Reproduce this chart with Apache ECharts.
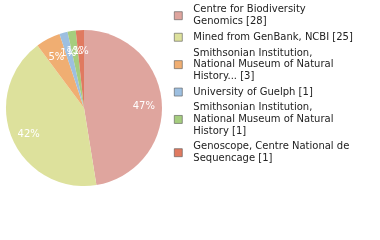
<!DOCTYPE html>
<html><head><meta charset="utf-8">
<script src="https://cdn.jsdelivr.net/npm/echarts@6/dist/echarts.min.js"></script>
<style>html,body{margin:0;padding:0;background:#fff}#c{width:380px;height:240px}</style>
</head><body><div id="c"></div>
<script>
var names = ["Centre for Biodiversity Genomics [28]","Mined from GenBank, NCBI [25]","Smithsonian Institution, National Museum of Natural History... [3]","University of Guelph [1]","Smithsonian Institution, National Museum of Natural History [1]","Genoscope, Centre National de Sequencage [1]"];
var legendText = ["Centre for Biodiversity\nGenomics [28]","Mined from GenBank, NCBI [25]","Smithsonian Institution,\nNational Museum of Natural\nHistory... [3]","University of Guelph [1]","Smithsonian Institution,\nNational Museum of Natural\nHistory [1]","Genoscope, Centre National de\nSequencage [1]"];
var values = [28,25,3,1,1,1];
var pctLabels = ["47%","42%","5%","1%","1%","1%"];
var colors = ["#dfa59e","#dde19c","#f0ae72","#9dbfe0","#a5cd7e","#e07a60"];
var data = names.map(function(n,i){return {name:n,value:values[i]};});
var chart = echarts.init(document.getElementById('c'));
chart.setOption({
  animation:false,
  color:colors,
  legend:{orient:'vertical',left:174,top:4,padding:0,itemWidth:8,itemHeight:8,itemGap:4,
    icon:'rect',
    itemStyle:{borderColor:'#555',borderWidth:0.6},
    textStyle:{fontFamily:'DejaVu Sans',fontSize:10,color:'#222',lineHeight:11.7,padding:[0,0,0,6]},
    formatter:function(n){return legendText[names.indexOf(n)];},
    selectedMode:false, data:names},
  series:[
    {type:'pie',radius:[0,78],center:[84,108],startAngle:90,clockwise:true,
     label:{show:false},labelLine:{show:false},data:data,silent:true},
    {type:'pie',radius:[36,78],center:[84,108],startAngle:90,clockwise:true,silent:true,
     minShowLabelAngle:0, avoidLabelOverlap:false,
     labelLayout:{hideOverlap:false},
     itemStyle:{color:'transparent'},
     label:{show:true,position:'inside',offset:[0,3],color:'#fff',fontFamily:'DejaVu Sans',fontSize:10,
       formatter:function(p){return pctLabels[p.dataIndex];}},
     labelLine:{show:false},data:data}
  ]
});
</script></body></html>
